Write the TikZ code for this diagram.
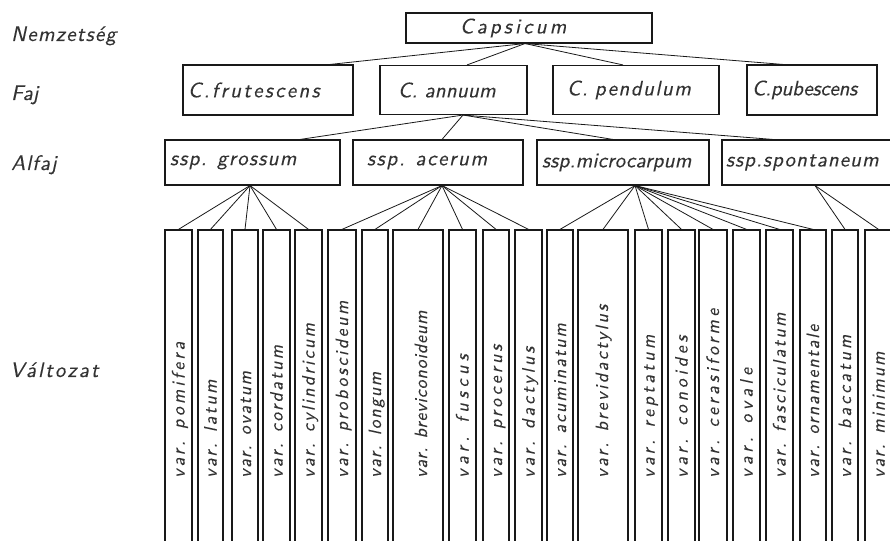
\documentclass[tikz,border=0pt]{standalone}
\usepackage{fontspec}
\usetikzlibrary{positioning}
\newfontfamily\techFont{lmsans10-oblique}[Extension=.otf,FakeBold=0.2]

\begin{document}
\begin{tikzpicture}[x=1pt,y=1pt,
    ls/.style={font={\techFont\fontsize{21}{24}\selectfont\addfontfeature{LetterSpace=#1}}},
    vls/.style={font={\techFont\fontsize{18}{20}\selectfont\addfontfeature{LetterSpace=#1}}},
    rank/.style={anchor=base west,inner sep=0pt,text=black!80},
    taxon/.style={draw=black!90,line width=1.1pt,align=left,text=black!80},
    varBox/.style={draw=black!90,line width=1.2pt,minimum height=320pt,inner sep=0pt},
    varText/.style={rotate=90,anchor=base west,inner sep=0pt,text=black!80},
    edge/.style={black!90,line width=0.8pt}]
    \useasboundingbox (0,0) rectangle (890,540);
    \clip (0,0) rectangle (890,540);
    \def\levelGenus{512}
    \def\levelSpecies{450}
    \def\levelSubspecies{377.5}
    \def\levelVariety{150}
    \def\varBase{62}
    % rank labels
    \node[rank,ls=6] (rankGenus) at (11,499) {Nemzetség};
    \node[rank,ls=0] (rankSpecies) at (11,440) {Faj};
    \node[rank,ls=5] (rankSubspecies) at (11,370) {Alfaj};
    \node[rank,ls=10] (rankVariety) at (10,163) {Változat};
    % genus and species
    \node[taxon,ls=15,inner xsep=54pt,text width=138pt,minimum height=30pt] (capsicum) at (529,\levelGenus) {Capsicum};
    \node[taxon,ls=11,inner xsep=5pt,text width=160pt,minimum height=50pt] (frutescens) at (268,\levelSpecies) {C.frutescens};
    \node[taxon,ls=1,inner xsep=18pt,text width=111pt,minimum height=49pt] (annuum) at (453.5,\levelSpecies) {C. annuum};
    \node[taxon,ls=7,inner xsep=14pt,text width=138pt,minimum height=49pt] (pendulum) at (636,\levelSpecies) {C. pendulum};
    \node[taxon,ls=-1,inner xsep=5pt,text width=120pt,minimum height=50pt] (pubescens) at (812,\levelSpecies) {C.pubescens};
    % subspecies
    \node[taxon,ls=6,inner xsep=5pt,text width=165pt,minimum height=45pt] (grossum) at (252.5,\levelSubspecies) {ssp. grossum};
    \node[taxon,ls=8,inner xsep=14pt,text width=142pt,minimum height=45pt] (acerum) at (438,\levelSubspecies) {ssp. acerum};
    \node[taxon,ls=1,inner xsep=5pt,text width=162pt,minimum height=45pt] (microcarpum) at (623,\levelSubspecies) {ssp.microcarpum};
    \node[taxon,ls=5,inner xsep=4pt,text width=170pt,minimum height=45pt] (spontaneum) at (811,\levelSubspecies) {ssp.spontaneum};
    % varieties
    \node[varBox,minimum width=27pt] (pomifera) at (178.5,\levelVariety) {};
    \node[varBox,minimum width=25pt] (latum) at (210.5,\levelVariety) {};
    \node[varBox,minimum width=26pt] (ovatum) at (245,\levelVariety) {};
    \node[varBox,minimum width=27pt] (cordatum) at (276.5,\levelVariety) {};
    \node[varBox,minimum width=27pt] (cylindricum) at (308.5,\levelVariety) {};
    \node[varBox,minimum width=28pt] (proboscideum) at (342,\levelVariety) {};
    \node[varBox,minimum width=26pt] (longum) at (375,\levelVariety) {};
    \node[varBox,minimum width=50pt] (breviconoideum) at (418,\levelVariety) {};
    \node[varBox,minimum width=27pt] (fuscus) at (462.5,\levelVariety) {};
    \node[varBox,minimum width=26pt] (procerus) at (496,\levelVariety) {};
    \node[varBox,minimum width=27pt] (dactylus) at (528.5,\levelVariety) {};
    \node[varBox,minimum width=26pt] (acuminatum) at (560,\levelVariety) {};
    \node[varBox,minimum width=50pt] (brevidactylus) at (603,\levelVariety) {};
    \node[varBox,minimum width=27pt] (reptatum) at (648.5,\levelVariety) {};
    \node[varBox,minimum width=27pt] (conoides) at (681.5,\levelVariety) {};
    \node[varBox,minimum width=28pt] (cerasiforme) at (713,\levelVariety) {};
    \node[varBox,minimum width=27pt] (ovale) at (746.5,\levelVariety) {};
    \node[varBox,minimum width=27pt] (fasciculatum) at (779.5,\levelVariety) {};
    \node[varBox,minimum width=26pt] (ornamentale) at (813,\levelVariety) {};
    \node[varBox,minimum width=26pt] (baccatum) at (845,\levelVariety) {};
    \node[varBox,minimum width=27pt] (minimum) at (878.5,\levelVariety) {};
    % variety names
    \node[varText,vls=17] (pomiferaText) at (184.5,\varBase) {var. pomifera};
    \node[varText,vls=13] (latumText) at (216.5,\varBase) {var. latum};
    \node[varText,vls=9] (ovatumText) at (251,\varBase) {var. ovatum};
    \node[varText,vls=13] (cordatumText) at (282.5,\varBase) {var. cordatum};
    \node[varText,vls=13] (cylindricumText) at (314.5,\varBase) {var. cylindricum};
    \node[varText,vls=14] (proboscideumText) at (348,\varBase) {var. proboscideum};
    \node[varText,vls=9] (longumText) at (381,\varBase) {var. longum};
    \node[varText,vls=5] (breviconoideumText) at (427,\varBase) {var. breviconoideum};
    \node[varText,vls=25] (fuscusText) at (468.5,\varBase) {var. fuscus};
    \node[varText,vls=17] (procerusText) at (502,\varBase) {var. procerus};
    \node[varText,vls=17] (dactylusText) at (534.5,\varBase) {var. dactylus};
    \node[varText,vls=11] (acuminatumText) at (566,\varBase) {var. acuminatum};
    \node[varText,vls=14] (brevidactylusText) at (608,\varBase) {var. brevidactylus};
    \node[varText,vls=19] (reptatumText) at (654.5,\varBase) {var. reptatum};
    \node[varText,vls=21] (conoidesText) at (687.5,\varBase) {var. conoides};
    \node[varText,vls=19] (cerasiformeText) at (719,\varBase) {var. cerasiforme};
    \node[varText,vls=24] (ovaleText) at (752.5,\varBase) {var. ovale};
    \node[varText,vls=13] (fasciculatumText) at (785.5,\varBase) {var. fasciculatum};
    \node[varText,vls=10] (ornamentaleText) at (819,\varBase) {var. ornamentale};
    \node[varText,vls=17] (baccatumText) at (851,\varBase) {var. baccatum};
    \node[varText,vls=11] (minimumText) at (884.5,\varBase) {var. minimum};
    % feet of the branches
    \coordinate (capsicumFoot) at ([xshift=-4pt]capsicum.south);
    \coordinate (annuumFoot) at ([xshift=9.5pt]annuum.south);
    \coordinate (grossumFoot) at ([xshift=-2.5pt]grossum.south);
    \coordinate (acerumFoot) at ([xshift=4pt]acerum.south);
    \coordinate (microcarpumFoot) at ([xshift=12pt]microcarpum.south);
    \coordinate (spontaneumFoot) at ([xshift=4pt]spontaneum.south);
    \draw[edge] (capsicumFoot) -- ([xshift=62pt]frutescens.north);
    \draw[edge] (capsicumFoot) -- ([xshift=13.5pt]annuum.north);
    \draw[edge] (capsicumFoot) -- ([xshift=-13pt]pendulum.north);
    \draw[edge] (capsicumFoot) -- ([xshift=-29pt]pubescens.north);
    \draw[edge] (annuumFoot) -- ([xshift=47.5pt]grossum.north);
    \draw[edge] (annuumFoot) -- ([xshift=4pt]acerum.north);
    \draw[edge] (annuumFoot) -- ([xshift=-10pt]microcarpum.north);
    \draw[edge] (annuumFoot) -- ([xshift=-38pt]spontaneum.north);
    \draw[edge] (grossumFoot) -- (pomifera.north);
    \draw[edge] (grossumFoot) -- (latum.north);
    \draw[edge] (grossumFoot) -- (ovatum.north);
    \draw[edge] (grossumFoot) -- (cordatum.north);
    \draw[edge] (grossumFoot) -- (cylindricum.north);
    \draw[edge] (acerumFoot) -- (proboscideum.north);
    \draw[edge] (acerumFoot) -- (longum.north);
    \draw[edge] (acerumFoot) -- (breviconoideum.north);
    \draw[edge] (acerumFoot) -- (fuscus.north);
    \draw[edge] (acerumFoot) -- (procerus.north);
    \draw[edge] (acerumFoot) -- (dactylus.north);
    \draw[edge] (microcarpumFoot) -- (acuminatum.north);
    \draw[edge] (microcarpumFoot) -- (brevidactylus.north);
    \draw[edge] (microcarpumFoot) -- (reptatum.north);
    \draw[edge] (microcarpumFoot) -- (conoides.north);
    \draw[edge] (microcarpumFoot) -- (cerasiforme.north);
    \draw[edge] (microcarpumFoot) -- (ovale.north);
    \draw[edge] (microcarpumFoot) -- (fasciculatum.north);
    \draw[edge] (microcarpumFoot) -- (ornamentale.north);
    \draw[edge] (spontaneumFoot) -- (baccatum.north);
    \draw[edge] (spontaneumFoot) -- (minimum.north);
\end{tikzpicture}
\end{document}
